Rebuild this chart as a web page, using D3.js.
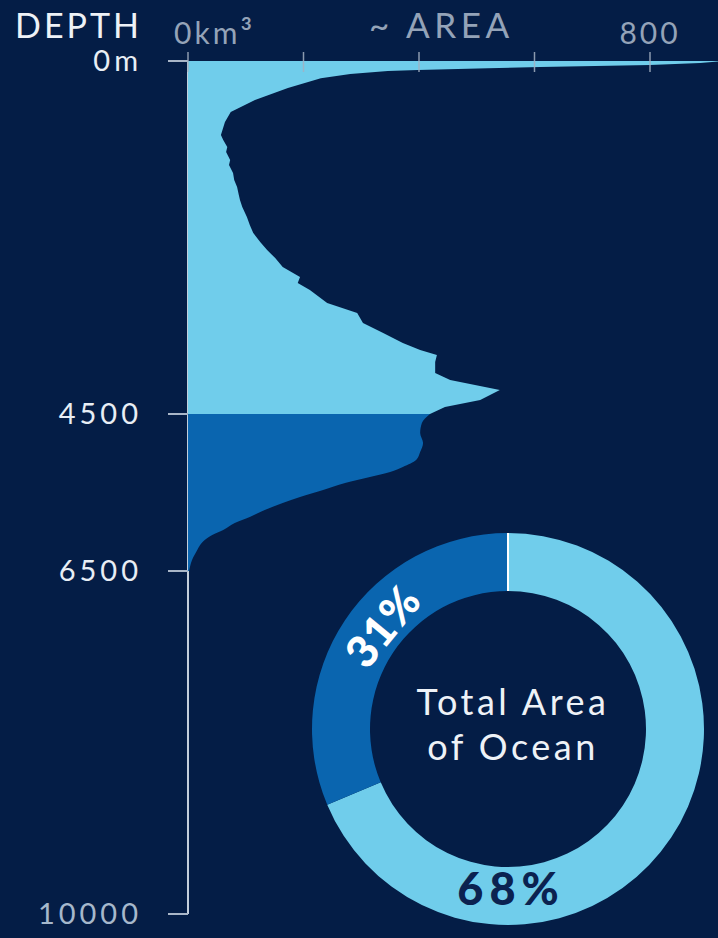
<!DOCTYPE html>
<html>
<head>
<meta charset="utf-8">
<script src="https://cdn.jsdelivr.net/npm/d3@7"></script>
<style>
  html, body { margin: 0; padding: 0; background: #041d46; }
  svg { display: block; }
  text { font-family: Lato, "Open Sans", sans-serif; }
</style>
</head>
<body>
<svg id="chart" width="718" height="938"></svg>
<script>
// ---- data ----
// depth profile (m) vs approximate area (km³ axis units)
const depths = [0, 6, 25, 51, 76, 93, 115, 127, 166, 221, 344, 497, 650, 778, 944,
  1007, 1097, 1160, 1262, 1326, 1428, 1517, 1607, 1709, 1772, 1862, 1989, 2091, 2193,
  2308, 2410, 2512, 2627, 2754, 2831, 2920, 3086, 3213, 3341, 3468, 3596, 3685, 3749,
  3838, 3978, 4067, 4131, 4195, 4259, 4323, 4412, 4500,
  4615, 4742, 4869, 4984, 5086, 5175, 5239, 5303, 5379, 5468, 5557, 5634, 5723, 5812,
  5889, 5978, 6042, 6105, 6169, 6233, 6300, 6360, 6430, 6500];
const areas = [918, 918, 887, 800, 610, 519, 398, 346, 281, 230, 173, 116, 74, 64, 57,
  61, 68, 66, 73, 71, 78, 80, 85, 88, 90, 94, 102, 107, 113,
  125, 137, 151, 164, 194, 190, 211, 241, 293, 303, 338, 372, 402, 431,
  428, 428, 454, 497, 540, 523, 506, 445, 419,
  405, 402, 407, 402, 395, 372, 350, 315, 272, 234, 194, 164, 133, 107,
  81, 61, 42, 29, 21, 16, 11, 7, 4, 2];
const deepThreshold = 4500;
const depthTicks = [0, 4500, 6500, 10000];
const depthTickLabels = ["0m", "4500", "6500", "10000"];
const areaTicks = [0, 200, 400, 600, 800];
const areaTickLabels = ["0km", "", "", "", "800"];
const areaUnitSup = "³";
const donutLabels = ["Deep", "Other"];
const donutValues = [31, 68];
const donutText = ["31%", "68%"];
const centerLines = ["Total Area", "of Ocean"];

// ---- setup ----
const svg = d3.select("#chart");
const light = "#70cdeb", mid = "#0a65af";

const y = d3.scaleLinear().domain([0, 4500, 6500, 10000]).range([61, 414, 571, 914]);
const x = d3.scaleLinear().domain([0, 800]).range([188, 650]);

const profile = depths.map((d, i) => ({ depth: d, area: areas[i] }));

// y axis line
svg.append("line")
  .attr("x1", x(0)).attr("x2", x(0))
  .attr("y1", y(0)).attr("y2", y(10000))
  .attr("stroke", "#c3cedb").attr("stroke-width", 2);

// y axis ticks
svg.selectAll(".ytick").data(depthTicks).join("line")
  .attr("class", "ytick")
  .attr("x1", x(0) - 20).attr("x2", x(0))
  .attr("y1", d => y(d)).attr("y2", d => y(d))
  .attr("stroke", "#a9b6c8").attr("stroke-width", 2);

// areas
const areaGen = d3.area()
  .y(d => y(d.depth))
  .x0(x(0))
  .x1(d => x(d.area))
  .curve(d3.curveLinear);

svg.append("path")
  .datum(profile.filter(d => d.depth <= deepThreshold))
  .attr("d", areaGen)
  .attr("fill", light);

svg.append("path")
  .datum(profile.filter(d => d.depth >= deepThreshold))
  .attr("d", areaGen.curve(d3.curveMonotoneY))
  .attr("fill", mid);

// x axis ticks (crossing)
svg.selectAll(".xtick").data(areaTicks).join("line")
  .attr("class", "xtick")
  .attr("x1", d => x(d)).attr("x2", d => x(d))
  .attr("y1", y(0) - 9).attr("y2", y(0) + 11)
  .attr("stroke", "#a3b0c2").attr("stroke-width", 1.5).attr("opacity", 0.85);

// y tick labels
svg.selectAll(".ylab").data(depthTicks).join("text")
  .attr("class", "ylab")
  .attr("x", 142)
  .attr("y", d => y(d) + 10)
  .attr("text-anchor", "end")
  .attr("font-size", 29)
  .attr("letter-spacing", 4)
  .attr("fill", (d, i) => i === depthTicks.length - 1 ? "#a6b8cc" : "#e8eef5")
  .text((d, i) => depthTickLabels[i]);

// header labels
svg.append("text")
  .attr("x", 142).attr("y", 38)
  .attr("text-anchor", "end")
  .attr("font-size", 34).attr("letter-spacing", 3)
  .attr("fill", "#eef2f7")
  .text("DEPTH");

const xl = svg.selectAll(".xlab").data(areaTicks).join("text")
  .attr("class", "xlab")
  .attr("x", (d, i) => i === 0 ? x(d) - 14 : x(d))
  .attr("y", 44)
  .attr("text-anchor", (d, i) => i === 0 ? "start" : "middle")
  .attr("font-size", 30).attr("letter-spacing", 3)
  .attr("fill", "#94a3b8")
  .text((d, i) => areaTickLabels[i]);
xl.filter((d, i) => i === 0).append("tspan")
  .attr("font-size", 36).attr("dy", 3)
  .text(areaUnitSup);

svg.append("text")
  .attr("x", 369).attr("y", 38)
  .attr("font-size", 35).attr("letter-spacing", 4.5)
  .attr("fill", "#94a3b8")
  .text("~ AREA");

// ---- donut ----
const cx = 508, cy = 729, rOuter = 196, rInner = 138;
const g = svg.append("g").attr("transform", `translate(${cx},${cy})`);

const pieData = d3.pie().sort(null)
  .value(d => d.v)
  (donutValues.map((v, i) => ({ v, label: donutLabels[i], text: donutText[i] })).reverse());
// reversed: "Other" clockwise from top, "Deep" ends at top (counterclockwise from top)

const arc = d3.arc().innerRadius(rInner).outerRadius(rOuter);
g.selectAll(".slice").data(pieData).join("path")
  .attr("class", "slice")
  .attr("d", arc)
  .attr("fill", d => d.data.label === "Deep" ? mid : light);

// white separator at top
g.append("line")
  .attr("x1", 0).attr("x2", 0)
  .attr("y1", -rOuter).attr("y2", -rInner)
  .attr("stroke", "#ffffff").attr("stroke-width", 2);

// labels
const labelR = (rInner + rOuter) / 2 - 4;
pieData.forEach(d => {
  if (d.data.label === "Deep") {
    const a = (d.startAngle + d.endAngle) / 2 - 2 * Math.PI + 0.1;
    const px = labelR * Math.sin(a), py = -labelR * Math.cos(a);
    g.append("text")
      .attr("transform", `translate(${px},${py}) rotate(${a * 180 / Math.PI})`)
      .attr("text-anchor", "middle")
      .attr("dominant-baseline", "central")
      .attr("font-size", 44).attr("font-weight", 900).attr("letter-spacing", 1)
      .attr("fill", "#ffffff")
      .text(d.data.text);
  } else {
    g.append("text")
      .attr("x", 3).attr("y", 176)
      .attr("text-anchor", "middle")
      .attr("font-size", 45).attr("font-weight", 900).attr("letter-spacing", 6)
      .attr("fill", "#0b2250")
      .text(d.data.text);
  }
});

g.selectAll(".center").data(centerLines).join("text")
  .attr("class", "center")
  .attr("x", 5)
  .attr("y", (d, i) => -14 + i * 45)
  .attr("text-anchor", "middle")
  .attr("font-size", 36).attr("font-weight", 400).attr("letter-spacing", 3.5)
  .attr("fill", "#eef2f7")
  .text(d => d);
</script>
</body>
</html>
